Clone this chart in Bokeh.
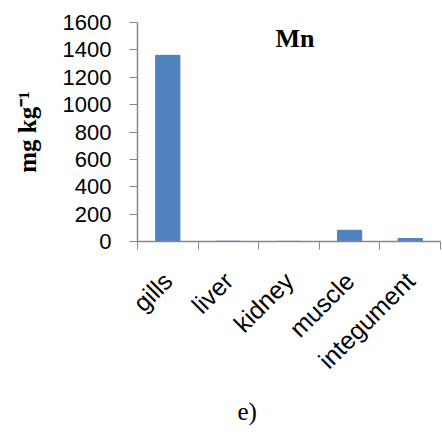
import math
from bokeh.plotting import figure
from bokeh.models import Range1d, FixedTicker, Label, ColumnDataSource, Title
from bokeh.embed import file_html
from bokeh.resources import INLINE

categories = ["gills", "liver", "kidney", "muscle", "integument"]
values = [1360, 2, 1, 82, 22]
y_ticks = [0, 200, 400, 600, 800, 1000, 1200, 1400, 1600]
title_text = "Mn"
panel_text = "e)"
y_label = "mg kg\u207b\u00b9"

W, H = 442, 434
FL, FB = 137, 241  # frame left / bottom in page pixels


def sx(X):
    return X - FL


def sy(Y):
    return FB - Y


p = figure(width=W, height=H, output_backend="svg", toolbar_location=None,
           x_range=Range1d(0, 5), y_range=Range1d(0, 1600),
           min_border_left=FL, min_border_right=2, min_border_top=22,
           min_border_bottom=H - FB)
p.outline_line_color = None
p.grid.grid_line_color = None
p.background_fill_color = "white"
p.border_fill_color = "white"

xs = [i + 0.5 for i in range(len(categories))]
src = ColumnDataSource(dict(x=xs, top=values))
p.vbar(x="x", top="top", width=0.4, bottom=0, source=src,
       fill_color="#4F81BD", line_color="#4F81BD")

axcol = "#868686"
xa = p.xaxis[0]
xa.ticker = FixedTicker(ticks=xs, minor_ticks=list(range(len(categories) + 1)))
xa.major_label_overrides = {x: c for x, c in zip(xs, categories)}
xa.major_label_orientation = math.pi / 4
xa.major_tick_out = 0
xa.major_tick_in = 0
xa.minor_tick_out = 8
xa.minor_tick_in = 0
xa.minor_tick_line_color = axcol
xa.axis_line_color = axcol
xa.axis_line_width = 1.5
xa.major_label_text_font = "Liberation Sans"
xa.major_label_text_font_size = "25px"
xa.major_label_text_color = "black"
xa.major_label_standoff = 27

ya = p.yaxis[0]
ya.ticker = FixedTicker(ticks=y_ticks, minor_ticks=[])
ya.major_tick_out = 8
ya.major_tick_in = 0
ya.major_tick_line_color = axcol
ya.axis_line_color = axcol
ya.axis_line_width = 1.5
ya.major_label_text_font = "Liberation Sans"
ya.major_label_text_font_size = "22px"
ya.major_label_text_color = "black"
ya.major_label_standoff = 18
ya.axis_label = y_label
ya.axis_label_text_font = "Liberation Serif"
ya.axis_label_text_font_style = "bold"
ya.axis_label_text_font_size = "25px"
ya.axis_label_text_color = "black"
ya.axis_label_standoff = 19

p.add_layout(Label(x=sx(275), y=sy(38), x_units="screen", y_units="screen",
                   text=title_text, text_font="Liberation Serif", text_font_style="bold",
                   text_font_size="26px", text_color="black",
                   text_align="left", text_baseline="alphabetic"))

p.add_layout(Title(text=panel_text, text_font="Liberation Serif",
                   text_font_size="25px", text_font_style="normal",
                   text_color="black", align="left", offset=100, standoff=19),
             "below")

open("out.html", "w").write(file_html(p, INLINE))
